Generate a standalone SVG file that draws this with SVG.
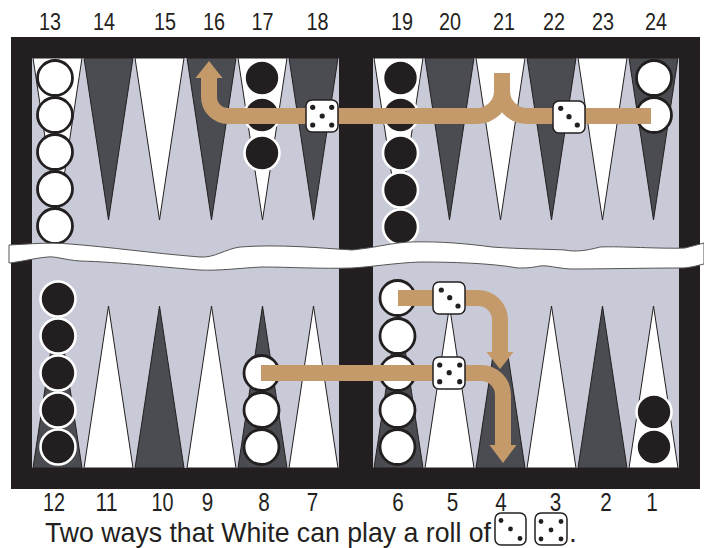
<svg xmlns="http://www.w3.org/2000/svg" width="704" height="548" viewBox="0 0 704 548">
<style>
.frame{fill:#231f20}
.felt{fill:#c8cad7}
.pw{fill:#ffffff;stroke:#231f20;stroke-width:1}
.pd{fill:#4b4c51;stroke:#231f20;stroke-width:1}
.cw{fill:#ffffff;stroke:#231f20;stroke-width:2.8}
.cb{fill:#231f20;stroke:#ffffff;stroke-width:2.6}
.arrow{fill:none;stroke:#c49a6b;stroke-width:16}
.head{fill:#c49a6b}
.die{fill:#ffffff;stroke:#231f20;stroke-width:1.5}
.pip{fill:#231f20}
.num{font-family:"Liberation Sans",Arial,sans-serif;font-size:24px;fill:#231f20;text-anchor:middle}
.numb{font-size:25.5px}
.cap{font-family:"Liberation Sans",Arial,sans-serif;font-size:28px;fill:#231f20}
.band{fill:#ffffff;stroke:#555555;stroke-width:1}
</style>
<rect width="704" height="548" fill="#ffffff"/>
<g id="board">
<rect class="frame" x="11" y="37" width="689" height="452"/>
<rect class="felt" x="32" y="58" width="307" height="410"/>
<rect class="felt" x="373" y="58" width="306" height="410"/>
</g>
<g id="points">
<polygon class="pw" points="33,58 82,58 57.5,220"/>
<polygon class="pd" points="84,58 133,58 108.5,220"/>
<polygon class="pw" points="135,58 184,58 159.5,220"/>
<polygon class="pd" points="187,58 236,58 211.5,220"/>
<polygon class="pw" points="238,58 287,58 262.5,220"/>
<polygon class="pd" points="289,58 338,58 313.5,220"/>
<polygon class="pw" points="374,58 423,58 398.5,220"/>
<polygon class="pd" points="425,58 474,58 449.5,220"/>
<polygon class="pw" points="476,58 525,58 500.5,220"/>
<polygon class="pd" points="527,58 576,58 551.5,220"/>
<polygon class="pw" points="578,58 627,58 602.5,220"/>
<polygon class="pd" points="629,58 678,58 653.5,220"/>
<polygon class="pd" points="33,468 82,468 57.5,306"/>
<polygon class="pw" points="84,468 133,468 108.5,306"/>
<polygon class="pd" points="135,468 184,468 159.5,306"/>
<polygon class="pw" points="187,468 236,468 211.5,306"/>
<polygon class="pd" points="238,468 287,468 262.5,306"/>
<polygon class="pw" points="289,468 338,468 313.5,306"/>
<polygon class="pd" points="374,468 423,468 398.5,306"/>
<polygon class="pw" points="425,468 474,468 449.5,306"/>
<polygon class="pd" points="476,468 525,468 500.5,306"/>
<polygon class="pw" points="527,468 576,468 551.5,306"/>
<polygon class="pd" points="578,468 627,468 602.5,306"/>
<polygon class="pw" points="629,468 678,468 653.5,306"/>
</g>
<g id="checkers-13">
<circle class="cw" cx="55" cy="78" r="17.5"/>
<circle class="cw" cx="55" cy="115" r="17.5"/>
<circle class="cw" cx="55" cy="152" r="17.5"/>
<circle class="cw" cx="55" cy="189" r="17.5"/>
<circle class="cw" cx="55" cy="226" r="17.5"/>
</g>
<g id="checkers-17">
<circle class="cb" cx="262" cy="78" r="17.5"/>
<circle class="cb" cx="262" cy="115" r="17.5"/>
<circle class="cb" cx="262" cy="153" r="17.5"/>
</g>
<g id="checkers-19">
<circle class="cb" cx="400.5" cy="78" r="17.5"/>
<circle class="cb" cx="400.5" cy="115" r="17.5"/>
<circle class="cb" cx="400.5" cy="153" r="17.5"/>
<circle class="cb" cx="400.5" cy="190" r="17.5"/>
<circle class="cb" cx="400.5" cy="227" r="17.5"/>
</g>
<g id="checkers-24">
<circle class="cw" cx="654" cy="78" r="17.5"/>
<circle class="cw" cx="654" cy="115" r="17.5"/>
</g>
<g id="checkers-12">
<circle class="cb" cx="58" cy="299" r="17.5"/>
<circle class="cb" cx="58" cy="336" r="17.5"/>
<circle class="cb" cx="58" cy="373" r="17.5"/>
<circle class="cb" cx="58" cy="410" r="17.5"/>
<circle class="cb" cx="58" cy="447" r="17.5"/>
</g>
<g id="checkers-8">
<circle class="cw" cx="261.5" cy="373" r="17.5"/>
<circle class="cw" cx="261.5" cy="410" r="17.5"/>
<circle class="cw" cx="261.5" cy="447" r="17.5"/>
</g>
<g id="checkers-6">
<circle class="cw" cx="397.5" cy="298" r="17.5"/>
<circle class="cw" cx="397.5" cy="336" r="17.5"/>
<circle class="cw" cx="397.5" cy="373" r="17.5"/>
<circle class="cw" cx="397.5" cy="410" r="17.5"/>
<circle class="cw" cx="397.5" cy="447" r="17.5"/>
</g>
<g id="checkers-1">
<circle class="cb" cx="654" cy="412" r="17.5"/>
<circle class="cb" cx="654" cy="447" r="17.5"/>
</g>
<path id="band" class="band" d="M9,245 C30,244 50,242 70,244 C110,247 150,253 200,257 C215,258 225,249 240,247 C280,244 320,248 352,250 C380,247 390,243 410,242 C440,241 470,244 492,247 C520,249 545,249 565,250 C575,252 585,251 600,247 C620,246 660,249 685,248 L704,243 L704,264 C695,266 690,268 680,268 C650,268 600,269 570,269 C555,268 548,265 540,266 C530,268 525,268 518,268 C490,263 450,262 420,262 C395,263 370,267 352,268 C320,269 290,267 262,267 C240,268 220,271 200,270 C170,268 120,262 80,261 C65,260 55,256 48,257 C35,258 20,262 9,263 Z"/>
<g id="connectors">
<path class="arrow" d="M651,116 H527 A25,25 0 0 1 502,91 V73"/>
<path class="arrow" d="M502,73 V91 A25,25 0 0 1 477,116 H228 A19,19 0 0 1 209,97 V77"/>
<polygon class="head" points="195.5,78 222.5,78 209,61"/>
<path class="arrow" d="M398,298 H478 A22,22 0 0 1 500,320 V353"/>
<polygon class="head" points="486.5,352 513.5,352 500,369"/>
<path class="arrow" d="M261,373 H481 A22,22 0 0 1 503,395 V446"/>
<polygon class="head" points="489.5,445 516.5,445 503,463"/>
</g>
<g id="die-5-top">
<rect class="die" x="306" y="100" width="32" height="32" rx="6"/>
<circle class="pip" cx="312.7" cy="107.3" r="2.6"/>
<circle class="pip" cx="331.7" cy="107.3" r="2.6"/>
<circle class="pip" cx="322.2" cy="116" r="2.6"/>
<circle class="pip" cx="312.7" cy="125" r="2.6"/>
<circle class="pip" cx="331.7" cy="125" r="2.6"/>
</g>
<g id="die-3-top">
<rect class="die" x="553" y="101" width="32" height="32" rx="6"/>
<circle class="pip" cx="560.7" cy="108.3" r="2.6"/>
<circle class="pip" cx="569" cy="116.7" r="2.6"/>
<circle class="pip" cx="577.3" cy="125" r="2.6"/>
</g>
<g id="die-3-bottom">
<rect class="die" x="433" y="282" width="32" height="32" rx="6"/>
<circle class="pip" cx="441.3" cy="290" r="2.6"/>
<circle class="pip" cx="449.7" cy="297.7" r="2.6"/>
<circle class="pip" cx="458" cy="306" r="2.6"/>
</g>
<g id="die-5-bottom">
<rect class="die" x="433" y="357" width="32" height="32" rx="6"/>
<circle class="pip" cx="439.7" cy="365" r="2.6"/>
<circle class="pip" cx="459.7" cy="365" r="2.6"/>
<circle class="pip" cx="449.2" cy="372.7" r="2.6"/>
<circle class="pip" cx="439.7" cy="381.7" r="2.6"/>
<circle class="pip" cx="459.7" cy="381.7" r="2.6"/>
</g>
<g id="labels-top">
<text class="num" x="50" y="30" textLength="22" lengthAdjust="spacingAndGlyphs">13</text>
<text class="num" x="104" y="30" textLength="22" lengthAdjust="spacingAndGlyphs">14</text>
<text class="num" x="165" y="30" textLength="22" lengthAdjust="spacingAndGlyphs">15</text>
<text class="num" x="214" y="30" textLength="22" lengthAdjust="spacingAndGlyphs">16</text>
<text class="num" x="262.5" y="30" textLength="22" lengthAdjust="spacingAndGlyphs">17</text>
<text class="num" x="317.5" y="30" textLength="22" lengthAdjust="spacingAndGlyphs">18</text>
<text class="num" x="402" y="30" textLength="22" lengthAdjust="spacingAndGlyphs">19</text>
<text class="num" x="450" y="30" textLength="22" lengthAdjust="spacingAndGlyphs">20</text>
<text class="num" x="504" y="30" textLength="22" lengthAdjust="spacingAndGlyphs">21</text>
<text class="num" x="554" y="30" textLength="22" lengthAdjust="spacingAndGlyphs">22</text>
<text class="num" x="603" y="30" textLength="22" lengthAdjust="spacingAndGlyphs">23</text>
<text class="num" x="656" y="30" textLength="22" lengthAdjust="spacingAndGlyphs">24</text>
</g>
<g id="labels-bottom">
<text class="num numb" x="54" y="511" textLength="22" lengthAdjust="spacingAndGlyphs">12</text>
<text class="num numb" x="106.5" y="511" textLength="22" lengthAdjust="spacingAndGlyphs">11</text>
<text class="num numb" x="162.5" y="511" textLength="22" lengthAdjust="spacingAndGlyphs">10</text>
<text class="num numb" x="207.5" y="511" textLength="11.5" lengthAdjust="spacingAndGlyphs">9</text>
<text class="num numb" x="264" y="511" textLength="11.5" lengthAdjust="spacingAndGlyphs">8</text>
<text class="num numb" x="312.5" y="511" textLength="11.5" lengthAdjust="spacingAndGlyphs">7</text>
<text class="num numb" x="398" y="511" textLength="11.5" lengthAdjust="spacingAndGlyphs">6</text>
<text class="num numb" x="452.5" y="511" textLength="11.5" lengthAdjust="spacingAndGlyphs">5</text>
<text class="num numb" x="501" y="511" textLength="11.5" lengthAdjust="spacingAndGlyphs">4</text>
<text class="num numb" x="555.5" y="511" textLength="11.5" lengthAdjust="spacingAndGlyphs">3</text>
<text class="num numb" x="606" y="511" textLength="11.5" lengthAdjust="spacingAndGlyphs">2</text>
<text class="num numb" x="652" y="511" textLength="11.5" lengthAdjust="spacingAndGlyphs">1</text>
</g>
<g id="caption">
<text class="cap" x="45" y="542" textLength="446" lengthAdjust="spacingAndGlyphs">Two ways that White can play a roll of</text>
<rect class="die" x="495" y="513" width="31" height="32" rx="6"/>
<circle class="pip" cx="501" cy="520.5" r="2.4"/>
<circle class="pip" cx="510.5" cy="529" r="2.4"/>
<circle class="pip" cx="520" cy="538.5" r="2.4"/>
<rect class="die" x="535" y="513" width="32" height="32" rx="6"/>
<circle class="pip" cx="541" cy="521.5" r="2.4"/>
<circle class="pip" cx="561" cy="521.5" r="2.4"/>
<circle class="pip" cx="551" cy="530" r="2.4"/>
<circle class="pip" cx="541" cy="539" r="2.4"/>
<circle class="pip" cx="561" cy="539" r="2.4"/>
<text class="cap" x="569" y="542">.</text>
</g>
</svg>
